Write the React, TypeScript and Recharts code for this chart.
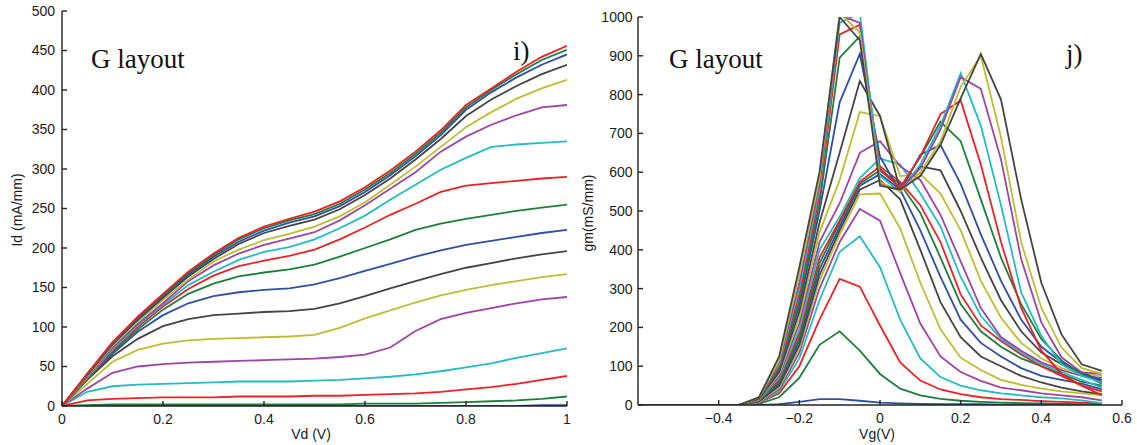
import React from 'react';
import { LineChart, Line, XAxis, YAxis } from 'recharts';

// ---------- Panel i) : Id vs Vd ----------
const vd = [0, 0.05, 0.1, 0.15, 0.2, 0.25, 0.3, 0.35, 0.4, 0.45, 0.5, 0.55, 0.6, 0.65, 0.7, 0.75, 0.8, 0.85, 0.9, 0.95, 1];
const id01 = [0, 0, 0, 0, 0, 0, 0, 0, 0, 0, 0, 0, 0, 0, 0, 0, 0, 0, 0, 1, 1];
const id02 = [0, 1, 2, 2, 2, 2, 2, 2, 2, 2, 2, 2, 3, 3, 3, 4, 5, 6, 7, 9, 12];
const id03 = [0, 7, 9, 10, 11, 11, 11, 12, 12, 12, 13, 13, 14, 15, 16, 18, 21, 24, 28, 33, 38];
const id04 = [0, 18, 25, 27, 28, 29, 30, 31, 31, 31, 32, 33, 35, 37, 40, 44, 49, 54, 61, 67, 73];
const id05 = [0, 22, 42, 50, 53, 55, 56, 57, 58, 59, 60, 62, 65, 74, 95, 110, 118, 124, 130, 135, 138];
const id06 = [0, 28, 56, 71, 79, 83, 85, 86, 87, 88, 90, 99, 111, 121, 131, 140, 147, 153, 158, 163, 167];
const id07 = [0, 33, 63, 85, 101, 110, 115, 117, 119, 120, 123, 130, 139, 149, 158, 167, 175, 181, 187, 192, 196];
const id08 = [0, 34, 66, 94, 115, 130, 139, 144, 147, 149, 154, 162, 171, 180, 189, 197, 204, 209, 214, 219, 223];
const id09 = [0, 34, 68, 97, 122, 142, 155, 164, 169, 173, 179, 189, 200, 211, 223, 231, 237, 242, 247, 251, 255];
const id10 = [0, 35, 70, 100, 126, 148, 165, 177, 184, 190, 198, 211, 226, 242, 256, 271, 279, 282, 285, 288, 290];
const id11 = [0, 36, 72, 102, 128, 153, 170, 185, 195, 201, 211, 225, 241, 261, 280, 299, 314, 328, 331, 333, 335];
const id12 = [0, 37, 74, 104, 130, 158, 178, 193, 204, 212, 220, 235, 254, 275, 296, 322, 341, 356, 368, 378, 381];
const id13 = [0, 38, 76, 107, 134, 160, 183, 198, 210, 218, 227, 240, 258, 280, 303, 328, 353, 372, 389, 402, 413];
const id14 = [0, 39, 78, 109, 137, 164, 186, 205, 219, 228, 236, 249, 267, 288, 312, 338, 367, 388, 405, 420, 432];
const id15 = [0, 40, 79, 111, 139, 166, 189, 208, 222, 232, 240, 253, 271, 292, 316, 343, 375, 397, 416, 432, 445];
const id16 = [0, 40, 80, 112, 140, 168, 191, 211, 225, 235, 243, 256, 274, 295, 319, 346, 378, 400, 420, 438, 451];
const id17 = [0, 41, 81, 113, 142, 170, 193, 213, 227, 237, 246, 259, 277, 298, 322, 349, 381, 402, 423, 442, 456];
const idSeries = [id01, id02, id03, id04, id05, id06, id07, id08, id09, id10, id11, id12, id13, id14, id15, id16, id17];
const vdTicks = [0, 0.2, 0.4, 0.6, 0.8, 1];
const idTicks = [0, 50, 100, 150, 200, 250, 300, 350, 400, 450, 500];

// ---------- Panel j) : gm vs Vg ----------
const vg = [-0.6, -0.55, -0.5, -0.45, -0.4, -0.35, -0.3, -0.25, -0.2, -0.15, -0.1, -0.05, 0, 0.05, 0.1, 0.15, 0.2, 0.25, 0.3, 0.35, 0.4, 0.45, 0.5, 0.55];
const gm01 = [0, 0, 0, 0, 0, 0, 0, 2, 8, 15, 15, 11, 6, 4, 3, 2, 2, 2, 1, 1, 1, 1, 1, 1];
const gm02 = [0, 0, 0, 0, 0, 0, 3, 20, 70, 155, 190, 140, 80, 42, 25, 16, 11, 8, 6, 5, 4, 3, 2, 2];
const gm03 = [0, 0, 0, 0, 0, 0, 5, 30, 100, 220, 325, 305, 205, 110, 63, 40, 28, 20, 15, 13, 10, 8, 6, 4];
const gm04 = [0, 0, 0, 0, 0, 0, 6, 35, 120, 270, 395, 435, 355, 220, 120, 72, 50, 38, 30, 25, 20, 17, 12, 5];
const gm05 = [0, 0, 0, 0, 0, 0, 7, 40, 135, 300, 420, 505, 475, 340, 210, 125, 85, 62, 45, 38, 30, 25, 20, 12];
const gm06 = [0, 0, 0, 0, 0, 0, 8, 45, 145, 320, 440, 543, 545, 455, 315, 195, 122, 90, 65, 52, 42, 35, 30, 25];
const gm07 = [0, 0, 0, 0, 0, 0, 9, 50, 155, 335, 450, 555, 580, 530, 400, 265, 175, 125, 100, 75, 58, 45, 35, 28];
const gm08 = [0, 0, 0, 0, 0, 0, 10, 55, 165, 350, 460, 565, 595, 555, 450, 330, 220, 160, 125, 95, 75, 65, 55, 40];
const gm09 = [0, 0, 0, 0, 0, 0, 11, 60, 175, 365, 470, 570, 605, 570, 495, 380, 260, 190, 150, 120, 100, 80, 60, 50];
const gm10 = [0, 0, 0, 0, 0, 0, 12, 65, 185, 380, 475, 575, 615, 575, 515, 420, 285, 205, 165, 130, 100, 75, 50, 35];
const gm11 = [0, 0, 0, 0, 0, 0, 13, 70, 195, 400, 485, 585, 635, 620, 545, 460, 330, 230, 170, 135, 105, 85, 65, 45];
const gm12 = [0, 0, 0, 0, 0, 0, 14, 75, 210, 420, 520, 650, 680, 615, 580, 490, 370, 250, 175, 140, 110, 90, 75, 70];
const gm13 = [0, 0, 0, 0, 0, 0, 15, 80, 225, 445, 580, 755, 745, 590, 595, 545, 450, 320, 225, 160, 120, 95, 80, 75];
const gm14 = [0, 0, 0, 0, 0, 0, 16, 85, 240, 470, 650, 835, 745, 555, 615, 605, 500, 380, 270, 190, 135, 105, 85, 60];
const gm15 = [0, 0, 0, 0, 0, 0, 17, 90, 255, 500, 780, 905, 640, 550, 645, 670, 570, 440, 320, 220, 150, 110, 80, 65];
const gm16 = [0, 0, 0, 0, 0, 0, 18, 95, 270, 520, 895, 950, 610, 560, 640, 730, 680, 530, 380, 260, 170, 115, 80, 55];
const gm17 = [0, 0, 0, 0, 0, 0, 18, 100, 285, 540, 955, 980, 605, 560, 640, 750, 785, 620, 420, 250, 140, 80, 50, 25];
const gm18 = [0, 0, 0, 0, 0, 0, 19, 105, 300, 555, 985, 1010, 590, 550, 620, 720, 855, 720, 515, 290, 178, 105, 75, 58];
const gm19 = [0, 0, 0, 0, 0, 0, 19, 110, 315, 570, 1005, 985, 570, 555, 610, 710, 845, 815, 633, 376, 213, 123, 84, 80];
const gm20 = [0, 0, 0, 0, 0, 0, 20, 115, 335, 585, 1010, 960, 575, 550, 600, 680, 820, 900, 690, 420, 250, 148, 95, 80];
const gm21 = [0, 0, 0, 0, 0, 0, 20, 125, 355, 600, 1000, 940, 565, 555, 590, 670, 790, 905, 787, 530, 315, 182, 105, 88];
const gmSeries = [gm01, gm02, gm03, gm04, gm05, gm06, gm07, gm08, gm09, gm10, gm11, gm12, gm13, gm14, gm15, gm16, gm17, gm18, gm19, gm20, gm21];
const vgTicks = [-0.4, -0.2, 0, 0.2, 0.4, 0.6];
const gmTicks = [0, 100, 200, 300, 400, 500, 600, 700, 800, 900, 1000];

// MATLAB-like colour cycle (as printed)
const palette = ['#2f4ea6', '#1c7f3c', '#ee2126', '#22bcc2', '#9d44a6', '#bdbd32', '#444444'];

const leftRows = vd.map((x, i) => {
  const r: Record<string, number> = { x };
  idSeries.forEach((s, k) => { r['s' + k] = s[i]; });
  return r;
});
const rightRows = vg.map((x, i) => {
  const r: Record<string, number> = { x };
  gmSeries.forEach((s, k) => { r['s' + k] = s[i]; });
  return r;
});

const fmt = (v: number) => (v === 0 ? '0' : String(v).replace('-', '\u2212'));
const tickFont = { fontSize: 14, fill: '#1a1a1a', fontFamily: '"Liberation Sans", Arial, sans-serif' };
const axisStroke = { stroke: '#222', strokeWidth: 1.4 };

export default function App() {
  return (
    <div style={{ position: 'absolute', left: 0, top: 0, width: 1137, height: 445, background: '#fff' }}>
      <div style={{ position: 'absolute', left: 0, top: 0 }}>
        <LineChart width={580} height={445} data={leftRows} margin={{ top: 11, right: 13, left: 0, bottom: 0 }}>
          <XAxis dataKey="x" type="number" domain={[0, 1]} ticks={vdTicks} allowDataOverflow
            height={39} tickSize={-5} tickMargin={13} tick={tickFont} tickFormatter={fmt}
            axisLine={axisStroke} tickLine={axisStroke} interval={0} />
          <XAxis xAxisId="t" orientation="top" type="number" domain={[0, 1]} ticks={vdTicks} allowDataOverflow
            height={0} tickSize={-5} tick={false} axisLine={axisStroke} tickLine={axisStroke} interval={0} />
          <YAxis type="number" domain={[0, 500]} ticks={idTicks} allowDataOverflow width={62}
            tickSize={-5} tickMargin={12} tick={tickFont} tickFormatter={fmt}
            axisLine={axisStroke} tickLine={axisStroke} interval={0} />
          <YAxis yAxisId="r" orientation="right" type="number" domain={[0, 500]} ticks={idTicks} allowDataOverflow width={0}
            tickSize={-5} tick={false} axisLine={axisStroke} tickLine={axisStroke} interval={0} />
          {idSeries.map((_, k) => (
            <Line key={k} dataKey={'s' + k} type="linear" stroke={palette[k % 7]} strokeWidth={1.8}
              dot={false} activeDot={false} isAnimationActive={false} />
          ))}
        </LineChart>
      </div>
      <div style={{ position: 'absolute', left: 580, top: 0 }}>
        <LineChart width={557} height={445} data={rightRows} margin={{ top: 17, right: 15, left: 0, bottom: 0 }}>
          <XAxis dataKey="x" type="number" domain={[-0.6, 0.6]} ticks={vgTicks} allowDataOverflow
            height={40} tickSize={-5} tickMargin={13} tick={tickFont} tickFormatter={fmt}
            axisLine={axisStroke} tickLine={axisStroke} interval={0} />
          <XAxis xAxisId="t" orientation="top" type="number" domain={[-0.6, 0.6]} ticks={vgTicks} allowDataOverflow
            height={0} tickSize={-5} tick={false} axisLine={axisStroke} tickLine={axisStroke} interval={0} />
          <YAxis type="number" domain={[0, 1000]} ticks={gmTicks} allowDataOverflow width={58}
            tickSize={-5} tickMargin={10.5} tick={tickFont} tickFormatter={fmt}
            axisLine={axisStroke} tickLine={axisStroke} interval={0} />
          <YAxis yAxisId="r" orientation="right" type="number" domain={[0, 1000]} ticks={gmTicks} allowDataOverflow width={0}
            tickSize={-5} tick={false} axisLine={axisStroke} tickLine={axisStroke} interval={0} />
          {gmSeries.map((_, k) => (
            <Line key={k} dataKey={'s' + k} type="linear" stroke={palette[k % 7]} strokeWidth={1.8}
              dot={false} activeDot={false} isAnimationActive={false} />
          ))}
        </LineChart>
      </div>
      <svg width={1137} height={445} style={{ position: 'absolute', left: 0, top: 0, pointerEvents: 'none' }}>
        <g fontFamily='"Liberation Serif", "Times New Roman", serif' fontSize={27} fill="#111">
          <text x={91} y={68}>G layout</text>
          <text x={513} y={60}>i)</text>
          <text x={669} y={68}>G layout</text>
          <text x={1066} y={63}>j)</text>
        </g>
        <g fontFamily='"Liberation Sans", Arial, sans-serif' fontSize={14} fill="#1a1a1a">
          <text transform="translate(22,210) rotate(-90)" textAnchor="middle">Id (mA/mm)</text>
          <text x={311} y={439} textAnchor="middle">Vd (V)</text>
          <text transform="translate(593,213) rotate(-90)" textAnchor="middle">gm(mS/mm)</text>
          <text x={877} y={439} textAnchor="middle">Vg(V)</text>
        </g>
      </svg>
    </div>
  );
}
